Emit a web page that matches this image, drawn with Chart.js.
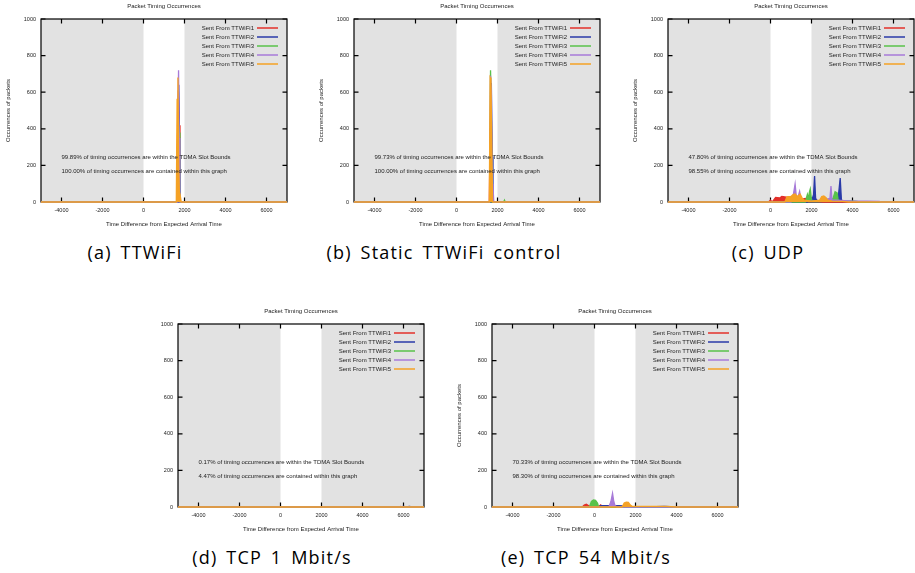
<!DOCTYPE html>
<html>
<head>
<meta charset="utf-8">
<script src="https://cdn.jsdelivr.net/npm/chart.js@4.4.1/dist/chart.umd.min.js"></script>
<style>
body { margin: 0; background: #fff; }
#page { position: relative; width: 915px; height: 573px; overflow: hidden; background: #fff; }
#page canvas { position: absolute; }
.cap { position: absolute; width: 320px; text-align: center; font-family: 'Open Sans'; font-size: 18px;
       letter-spacing: 1.2px; word-spacing: 3px; color: #000; line-height: 24px; white-space: nowrap; }
</style>
</head>
<body>
<div id="page">
  <canvas id="p-a" width="297" height="235" style="left:0px;top:0px;"></canvas>
  <canvas id="p-b" width="297" height="235" style="left:313px;top:0px;"></canvas>
  <canvas id="p-c" width="297" height="235" style="left:627px;top:0px;"></canvas>
  <canvas id="p-d" width="297" height="235" style="left:137px;top:305px;"></canvas>
  <canvas id="p-e" width="297" height="235" style="left:451px;top:305px;"></canvas>
  <div class="cap" id="cap-a" style="left:-25px;top:240px;"></div>
  <div class="cap" id="cap-b" style="left:284px;top:240px;"></div>
  <div class="cap" id="cap-c" style="left:608px;top:240px;"></div>
  <div class="cap" id="cap-d" style="left:112px;top:545px;"></div>
  <div class="cap" id="cap-e" style="left:426px;top:545px;"></div>
</div>
<script>
// axis ticks and slot bounds
const xTicks = [-4000, -2000, 0, 2000, 4000, 6000];
const yTicks = [0, 200, 400, 600, 800, 1000];
const xRange = [-5000, 7000];
const yRange = [0, 1000];
const slotBounds = [0, 2000];

const seriesNames = ['Sent From TTWiFi1', 'Sent From TTWiFi2', 'Sent From TTWiFi3', 'Sent From TTWiFi4', 'Sent From TTWiFi5'];
const seriesColors = ['#e3302a', '#2a3aa8', '#58c24a', '#a77ad8', '#f5a225'];

const captions = ['(a) TTWiFi', '(b) Static TTWiFi control', '(c) UDP', '(d) TCP 1 Mbit/s', '(e) TCP 54 Mbit/s'];
const withinSlot = ['99.89%', '99.73%', '47.80%', '0.17%', '70.33%'];
const containedGraph = ['100.00%', '100.00%', '98.55%', '4.47%', '98.30%'];
const notePos = [[-4000, 245], [-4000, 170]];

// (a) TTWiFi
const ttwifi_1 = [[-5000, 0], [1620, 0], [1660, 350], [1700, 610], [1740, 420], [1780, 0], [7000, 0]];
const ttwifi_2 = [[-5000, 0], [1640, 0], [1680, 420], [1720, 640], [1760, 300], [1800, 0], [7000, 0]];
const ttwifi_3 = [[-5000, 0], [1620, 0], [1660, 300], [1700, 460], [1740, 380], [1780, 0], [7000, 0]];
const ttwifi_4 = [[-5000, 0], [1640, 0], [1680, 500], [1710, 720], [1740, 350], [1780, 0], [7000, 0]];
const ttwifi_5 = [[-5000, 0], [1600, 0], [1640, 560], [1680, 680], [1720, 200], [1760, 0], [1800, 30], [1840, 0], [7000, 0]];

// (b) Static TTWiFi control
const static_1 = [[-5000, 0], [1600, 0], [1640, 400], [1680, 600], [1720, 300], [1760, 0], [7000, 0]];
const static_2 = [[-5000, 0], [1620, 0], [1660, 450], [1700, 650], [1740, 250], [1780, 0], [7000, 0]];
const static_3 = [[-5000, 0], [1620, 0], [1660, 720], [1700, 500], [1740, 0], [2300, 0], [2340, 10], [2380, 0], [7000, 0]];
const static_4 = [[-5000, 0], [1620, 0], [1660, 690], [1700, 600], [1740, 100], [1780, 80], [1820, 0], [7000, 0]];
const static_5 = [[-5000, 0], [1600, 0], [1640, 680], [1680, 670], [1720, 300], [1760, 0], [7000, 0]];

// (c) UDP
const udp_1 = [[-5000, 0], [-100, 0], [0, 10], [80, 0], [150, 10], [250, 25], [450, 22], [550, 30], [700, 28], [850, 25], [1000, 30], [1100, 10], [1300, 5], [1500, 15], [1700, 20], [1900, 5], [2300, 3], [2600, 0], [7000, 0]];
const udp_2 = [[-5000, 0], [1800, 0], [1900, 10], [2000, 5], [2100, 40], [2150, 142], [2200, 20], [2300, 5], [2800, 5], [3000, 10], [3300, 20], [3400, 131], [3460, 10], [3600, 5], [4000, 3], [4500, 0], [7000, 0]];
const udp_3 = [[-5000, 0], [1700, 0], [1800, 42], [1850, 20], [1900, 55], [1940, 71], [2000, 10], [2200, 5], [2900, 10], [3050, 20], [3150, 56], [3250, 50], [3300, 10], [3500, 5], [4000, 5], [4200, 3], [4400, 0], [7000, 0]];
const udp_4 = [[-5000, 0], [1000, 0], [1100, 30], [1200, 98], [1260, 30], [1350, 30], [1420, 58], [1480, 20], [1600, 5], [2400, 5], [2900, 20], [2950, 87], [3000, 10], [3200, 10], [4000, 5], [4700, 5], [5300, 3], [5400, 0], [7000, 0]];
const udp_5 = [[-5000, 0], [700, 0], [800, 28], [1000, 30], [1100, 40], [1200, 44], [1300, 30], [1450, 42], [1550, 20], [1650, 10], [2000, 5], [2400, 10], [2500, 30], [2600, 33], [2700, 25], [2800, 10], [3000, 5], [3500, 3], [3800, 0], [7000, 0]];

// (d) TCP 1 Mbit/s
const tcp1_1 = [[-5000, 0], [5800, 0], [5850, 3], [5900, 0], [7000, 0]];
const tcp1_2 = [[-5000, 0], [5900, 0], [6000, 4], [6100, 0], [6300, 3], [6400, 0], [7000, 0]];
const tcp1_3 = [[-5000, 0], [7000, 0]];
const tcp1_4 = [[-5000, 0], [7000, 0]];
const tcp1_5 = [[-5000, 0], [7000, 0]];

// (e) TCP 54 Mbit/s
const tcp54_1 = [[-5000, 0], [-600, 0], [-500, 10], [-400, 15], [-300, 8], [-200, 0], [200, 0], [300, 12], [400, 3], [1000, 3], [1500, 0], [7000, 0]];
const tcp54_2 = [[-5000, 0], [200, 0], [300, 7], [800, 7], [1200, 8], [1450, 5], [1600, 0], [3000, 2], [3400, 3], [4000, 0], [7000, 0]];
const tcp54_3 = [[-5000, 0], [-250, 0], [-150, 30], [-50, 38], [50, 36], [150, 20], [200, 0], [7000, 0]];
const tcp54_4 = [[-5000, 0], [700, 0], [800, 30], [880, 75], [940, 30], [1000, 8], [1100, 0], [7000, 0]];
const tcp54_5 = [[-5000, 0], [1350, 0], [1450, 22], [1550, 27], [1650, 25], [1750, 10], [1850, 3], [2500, 3], [3500, 3], [4000, 0], [7000, 0]];

const FONT = 'Liberation Sans';
const TXT = '#222';

// gnuplot-like frame: grey slot bands, border, inward ticks, key and labels
const gnuFrame = {
    id: 'gnuFrame',
    beforeDatasetsDraw(chart) {
        const { ctx, chartArea: a, scales: { x, y } } = chart;
        ctx.save();
        ctx.fillStyle = '#e2e2e2';
        let b0 = x.getPixelForValue(slotBounds[0]);
        let b1 = x.getPixelForValue(slotBounds[1]);
        ctx.fillRect(a.left, a.top, b0 - a.left, a.bottom - a.top);
        ctx.fillRect(b1, a.top, a.right - b1, a.bottom - a.top);
        ctx.strokeStyle = '#000';
        ctx.lineWidth = 1.2;
        ctx.strokeRect(a.left, a.top, a.right - a.left, a.bottom - a.top);
        ctx.beginPath();
        xTicks.forEach((v) => {
            let px = x.getPixelForValue(v);
            ctx.moveTo(px, a.bottom); ctx.lineTo(px, a.bottom - 4.5);
            ctx.moveTo(px, a.top); ctx.lineTo(px, a.top + 4.5);
        });
        yTicks.forEach((v) => {
            let py = y.getPixelForValue(v);
            ctx.moveTo(a.left, py); ctx.lineTo(a.left + 4.5, py);
            ctx.moveTo(a.right, py); ctx.lineTo(a.right - 4.5, py);
        });
        ctx.stroke();
        ctx.restore();
    },
    afterDatasetsDraw(chart, args, opts) {
        const { ctx, chartArea: a, scales: { x, y } } = chart;
        ctx.save();
        ctx.fillStyle = TXT;
        ctx.font = `6px "${FONT}"`;
        ctx.textBaseline = 'middle';
        // title
        ctx.textAlign = 'center';
        ctx.fillText('Packet Timing Occurrences', (a.left + a.right) / 2, a.top - 13);
        // labels
        ctx.textAlign = 'left';
        opts.notes.forEach((t, i) => {
            ctx.fillText(t, x.getPixelForValue(notePos[i][0]), y.getPixelForValue(notePos[i][1]));
        });
        // key
        chart.data.datasets.forEach((ds, i) => {
            let ry = a.top + 9 + i * 9;
            ctx.textAlign = 'right';
            ctx.fillStyle = TXT;
            ctx.fillText(ds.label, a.right - 33, ry);
            ctx.strokeStyle = ds.borderColor;
            ctx.lineWidth = 1.5;
            ctx.beginPath();
            ctx.moveTo(a.right - 30, ry);
            ctx.lineTo(a.right - 9, ry);
            ctx.stroke();
        });
        ctx.restore();
    }
};

function make_panel(canvas_id, series, idx, show_ytitle) {
    let ctx = document.getElementById(canvas_id);
    let tickFont = { family: FONT, size: 5.5 };
    let titleFont = { family: FONT, size: 6 };
    return new Chart(ctx, {
        type: 'line',
        data: {
            datasets: series.map((pts, i) => ({
                label: seriesNames[i],
                data: pts.map((p) => ({ x: p[0], y: p[1] })),
                borderColor: seriesColors[i],
                backgroundColor: seriesColors[i],
                borderWidth: 1.3,
                pointRadius: 0,
                tension: 0,
                fill: 'origin',
                order: series.length - i,
                clip: 2,
            })),
        },
        options: {
            responsive: false,
            animation: false,
            events: [],
            layout: { padding: { top: 19, right: 10, left: 0, bottom: 0 } },
            scales: {
                x: {
                    type: 'linear',
                    min: xRange[0],
                    max: xRange[1],
                    afterBuildTicks: (s) => { s.ticks = xTicks.map((v) => ({ value: v })); },
                    afterFit: (s) => { s.height = 33; },
                    grid: { display: false, drawTicks: false },
                    border: { display: false },
                    ticks: { font: tickFont, color: TXT, padding: 5, autoSkip: false, maxRotation: 0, callback: (v) => String(v) },
                    title: { display: true, text: 'Time Difference from Expected Arrival Time', font: titleFont, color: TXT, padding: { top: 0, bottom: 7.4 } },
                },
                y: {
                    type: 'linear',
                    min: yRange[0],
                    max: yRange[1],
                    afterBuildTicks: (s) => { s.ticks = yTicks.map((v) => ({ value: v })); },
                    afterFit: (s) => { s.width = 41; },
                    grid: { display: false, drawTicks: false },
                    border: { display: false },
                    ticks: { font: tickFont, color: TXT, padding: 5, autoSkip: false, callback: (v) => String(v) },
                    title: { display: show_ytitle, text: 'Occurrences of packets', font: titleFont, color: TXT, padding: { top: 4.7, bottom: 0 } },
                },
            },
            plugins: {
                legend: { display: false },
                title: { display: false },
                tooltip: { enabled: false },
                gnuFrame: {
                    notes: [
                        `${withinSlot[idx]} of timing occurrences are within the TDMA Slot Bounds`,
                        `${containedGraph[idx]} of timing occurrences are contained within this graph`,
                    ],
                },
            },
        },
        plugins: [gnuFrame],
    });
}

make_panel('p-a', [ttwifi_1, ttwifi_2, ttwifi_3, ttwifi_4, ttwifi_5], 0, true);
make_panel('p-b', [static_1, static_2, static_3, static_4, static_5], 1, true);
make_panel('p-c', [udp_1, udp_2, udp_3, udp_4, udp_5], 2, true);
make_panel('p-d', [tcp1_1, tcp1_2, tcp1_3, tcp1_4, tcp1_5], 3, false);
make_panel('p-e', [tcp54_1, tcp54_2, tcp54_3, tcp54_4, tcp54_5], 4, true);

['cap-a', 'cap-b', 'cap-c', 'cap-d', 'cap-e'].forEach((id, i) => {
    document.getElementById(id).textContent = captions[i];
});
</script>
</body>
</html>
